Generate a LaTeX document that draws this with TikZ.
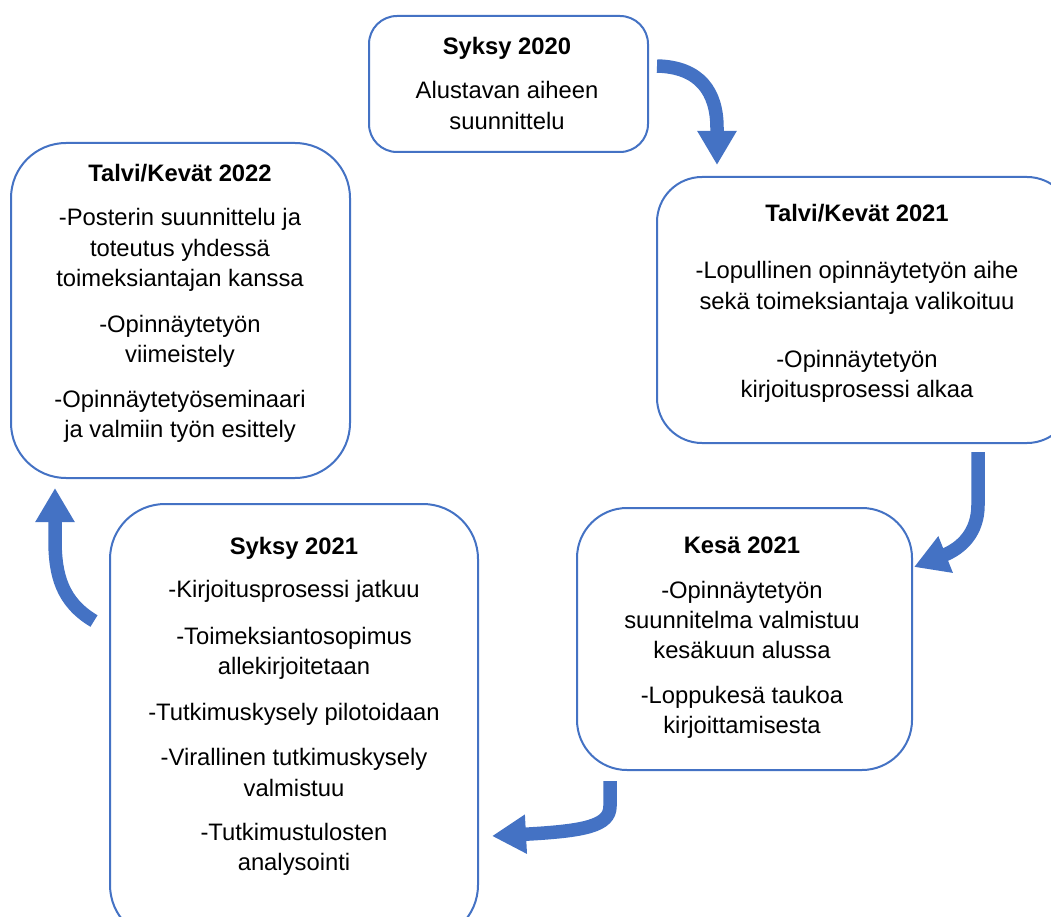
\documentclass[tikz,border=0pt]{standalone}
\usepackage{fontspec}
\setmainfont{Liberation Sans}
\usetikzlibrary{arrows.meta}
\definecolor{bl}{HTML}{4472C4}
\tikzset{
  box/.style={draw=bl, line width=2pt, fill=white},
  txt/.style={anchor=north, align=center, inner sep=0pt, font=\fontsize{23.8}{30.3}\selectfont},
  flow/.style={draw=bl, line width=13.5pt, -{Triangle[length=34pt,width=37pt]}},
}
\begin{document}
\begin{tikzpicture}[x=1pt,y=-1pt]
\clip (0,0) rectangle (1051,917);
\fill[white] (0,0) rectangle (1051,917);
% boxes
\draw[box, rounded corners=28pt] (369,16) rectangle (648,152);
\draw[box, rounded corners=45pt] (657,177) rectangle (1072,443);
\draw[box, rounded corners=55pt] (11,143) rectangle (350,478);
\draw[box, rounded corners=50pt] (577,508) rectangle (912,770);
\draw[box, rounded corners=55pt] (110,504) rectangle (478,940);
% texts
\node[txt] (t1) at (507,37) {\textbf{Syksy 2020}\\[14pt]Alustavan aiheen\\suunnittelu};
\node[txt] (t2) at (857,204) {\textbf{Talvi/Kevät 2021}\\[27pt]-Lopullinen opinnäytetyön aihe\\sekä toimeksiantaja valikoituu\\[28pt]-Opinnäytetyön\\kirjoitusprosessi alkaa};
\node[txt] (t3) at (180,164) {\textbf{Talvi/Kevät 2022}\\[14pt]-Posterin suunnittelu ja\\toteutus yhdessä\\toimeksiantajan kanssa\\[16pt]-Opinnäytetyön\\viimeistely\\[14pt]-Opinnäytetyöseminaari\\ja valmiin työn esittely};
\node[txt] (t4) at (742,537) {\textbf{Kesä 2021}\\[14pt]-Opinnäytetyön\\suunnitelma valmistuu\\kesäkuun alussa\\[14pt]-Loppukesä taukoa\\kirjoittamisesta};
\node[txt] (t5) at (294,537) {\textbf{Syksy 2021}\\[13pt]-Kirjoitusprosessi jatkuu\\[16pt]-Toimeksiantosopimus\\allekirjoitetaan\\[16pt]-Tutkimuskysely pilotoidaan\\[15pt]-Virallinen tutkimuskysely\\valmistuu\\[14pt]-Tutkimustulosten\\analysointi};
% arrow end points
\coordinate (a1s) at (657,66);
\coordinate (a1e) at (717,165);
\coordinate (a2s) at (978,452);
\coordinate (a2e) at (914,567);
\coordinate (a3s) at (610,781);
\coordinate (a3e) at (492,836);
\coordinate (a4s) at (94,621);
\coordinate (a4e) at (55,488);
% arrows
\draw[flow] (a1s) .. controls (700,67) and (717,92) .. (717,128) -- (a1e);
\draw[flow] (a2s) -- (978,505) .. controls (978,532) and (962,548) .. (a2e);
\draw[flow] (a3s) -- (610,806) .. controls (610,826) and (585,831) .. (a3e);
\draw[flow] (a4s) .. controls (62,602) and (55,575) .. (55,540) -- (a4e);
\end{tikzpicture}
\end{document}
